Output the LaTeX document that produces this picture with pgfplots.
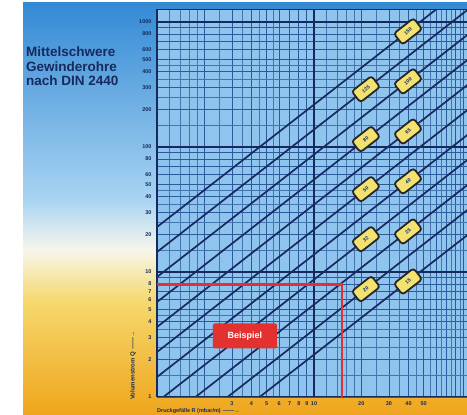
\documentclass[border=0pt]{standalone}
\usepackage{fontspec}
\setmainfont{Liberation Sans}
\usepackage{pgfplots}
\pgfplotsset{compat=1.18}
\definecolor{navy}{HTML}{172A5E}
\definecolor{gridc}{HTML}{2B5A9A}
\definecolor{plotbg}{HTML}{8FC4EE}
\definecolor{bgtop}{HTML}{338AD5}
\definecolor{bglb}{HTML}{A9D4F2}
\definecolor{bgwh}{HTML}{F7F6EC}
\definecolor{bgyl}{HTML}{F6D96E}
\definecolor{bgor}{HTML}{EFA51C}
\definecolor{redl}{HTML}{E2312E}
\definecolor{lblfill}{HTML}{F4E270}
\begin{document}
\begin{tikzpicture}[x=1pt,y=1pt]
\useasboundingbox (0,0) rectangle (467,415);
% background panel
\shade[bottom color=bgor, top color=bgyl] (23,0) rectangle (467,115.5);
\shade[bottom color=bgyl, top color=bgwh] (23,115) rectangle (467,165.5);
\shade[bottom color=bgwh, top color=bglb] (23,165) rectangle (467,215.5);
\shade[bottom color=bglb, top color=bgtop] (23,215) rectangle (467,412);
% title
\node[anchor=north west, align=left, text=navy, inner sep=0pt,
      font=\fontsize{13.5}{14.5}\selectfont\bfseries] at (26,368)
  {Mittelschwere\\Gewinderohre\\nach DIN 2440};
\begin{axis}[
  at={(157pt,18pt)}, anchor=south west, scale only axis,
  width=310pt, height=387pt,
  xmode=log, ymode=log,
  xmin=1, xmax=94.3, ymin=1, ymax=1247,
  axis background/.style={fill=plotbg},
  axis line style={navy, line width=1pt},
  major tick length=0pt, minor tick length=0pt,
  xtick={1,2,3,4,5,6,7,8,9,10,20,30,40,50,60,70,80,90},
  xticklabels={,,3,4,5,6,7,8,9,10,20,30,40,50,,,,},
  minor xtick={1.2,1.4,1.6,1.8,2.5,3.5,4.5,5.5,12,14,16,18,25,35,45,55,65,75,85},
  ytick={1,2,3,4,5,6,7,8,9,10,20,30,40,50,60,70,80,90,100,200,300,400,500,600,700,800,900,1000},
  yticklabels={1,2,3,4,5,6,7,8,,10,20,30,40,50,60,,80,,100,200,300,400,500,600,,800,,1000},
  minor ytick={1.5,2.5,3.5,4.5,15,25,35,45,150,250,350,450},
  grid=both,
  major grid style={gridc, line width=0.75pt},
  minor grid style={gridc!75!plotbg, line width=0.5pt},
  extra x ticks={1,10}, extra x tick labels={},
  extra y ticks={10,100,1000}, extra y tick labels={},
  extra tick style={major grid style={navy, line width=1.3pt}},
  /pgf/number format/assume math mode=true,
  ticklabel style={font=\fontsize{5.5}{6}\selectfont\bfseries, text=navy},
  yticklabel style={xshift=-2pt},
  xticklabel style={yshift=-1pt},
  clip=true,
]
% pipe lines (log-log straight lines)
\addplot[navy, line width=1.7pt] coordinates {(1,22.9) (100,2080)};
\addplot[navy, line width=1.7pt] coordinates {(1,14.45) (100,1315)};
\addplot[navy, line width=1.7pt] coordinates {(1,9.12) (100,830)};
\addplot[navy, line width=1.7pt] coordinates {(1,5.75) (100,523)};
\addplot[navy, line width=1.7pt] coordinates {(1,3.63) (100,330)};
\addplot[navy, line width=1.7pt] coordinates {(1,2.29) (100,208)};
\addplot[navy, line width=1.7pt] coordinates {(1,1.445) (100,131.5)};
\addplot[navy, line width=1.7pt] coordinates {(1,0.912) (100,83.0)};
\addplot[navy, line width=1.7pt] coordinates {(1,0.575) (100,52.3)};
\addplot[navy, line width=1.7pt] coordinates {(1,0.363) (100,33.0)};
\addplot[navy, line width=1.7pt] coordinates {(1,0.229) (100,20.8)};
% example (red)
\addplot[redl, line width=2.8pt] coordinates {(1,8) (15.1,8) (15.1,1)};
\node[fill=redl, rounded corners=2pt, minimum width=64pt, minimum height=25pt,
      text=white, font=\fontsize{9}{10}\selectfont\bfseries] at (axis cs:3.63,3.08) {Beispiel};
% pipe size labels
\tikzset{lbl/.style={draw=black!85, line width=1.8pt, fill=lblfill, rounded corners=3pt,
  minimum width=25pt, minimum height=14pt, inner sep=0.5pt, rotate=38,
  font=\fontsize{5}{5}\selectfont\bfseries, text=navy}}
\node[lbl] at (axis cs:39.7,841) {150};
\node[lbl] at (axis cs:21.4,290) {125};
\node[lbl] at (axis cs:39.7,335) {100};
\node[lbl] at (axis cs:21.4,115.6) {80};
\node[lbl] at (axis cs:39.7,133) {65};
\node[lbl] at (axis cs:21.4,46) {50};
\node[lbl] at (axis cs:39.7,53.1) {40};
\node[lbl] at (axis cs:21.4,18.3) {32};
\node[lbl] at (axis cs:39.7,21.1) {25};
\node[lbl] at (axis cs:21.4,7.3) {20};
\node[lbl] at (axis cs:39.7,8.4) {15};
\end{axis}
% axis titles
\node[rotate=90, anchor=west, text=navy, inner sep=0pt,
      font=\fontsize{6}{7}\selectfont\bfseries] at (133,15) {Volumenstrom Q \,——→};
\node[anchor=west, text=navy, inner sep=0pt,
      font=\fontsize{5.5}{6}\selectfont\bfseries] at (157,4) {Druckgefälle R (mbar/m) \,——→};
\end{tikzpicture}
\end{document}
